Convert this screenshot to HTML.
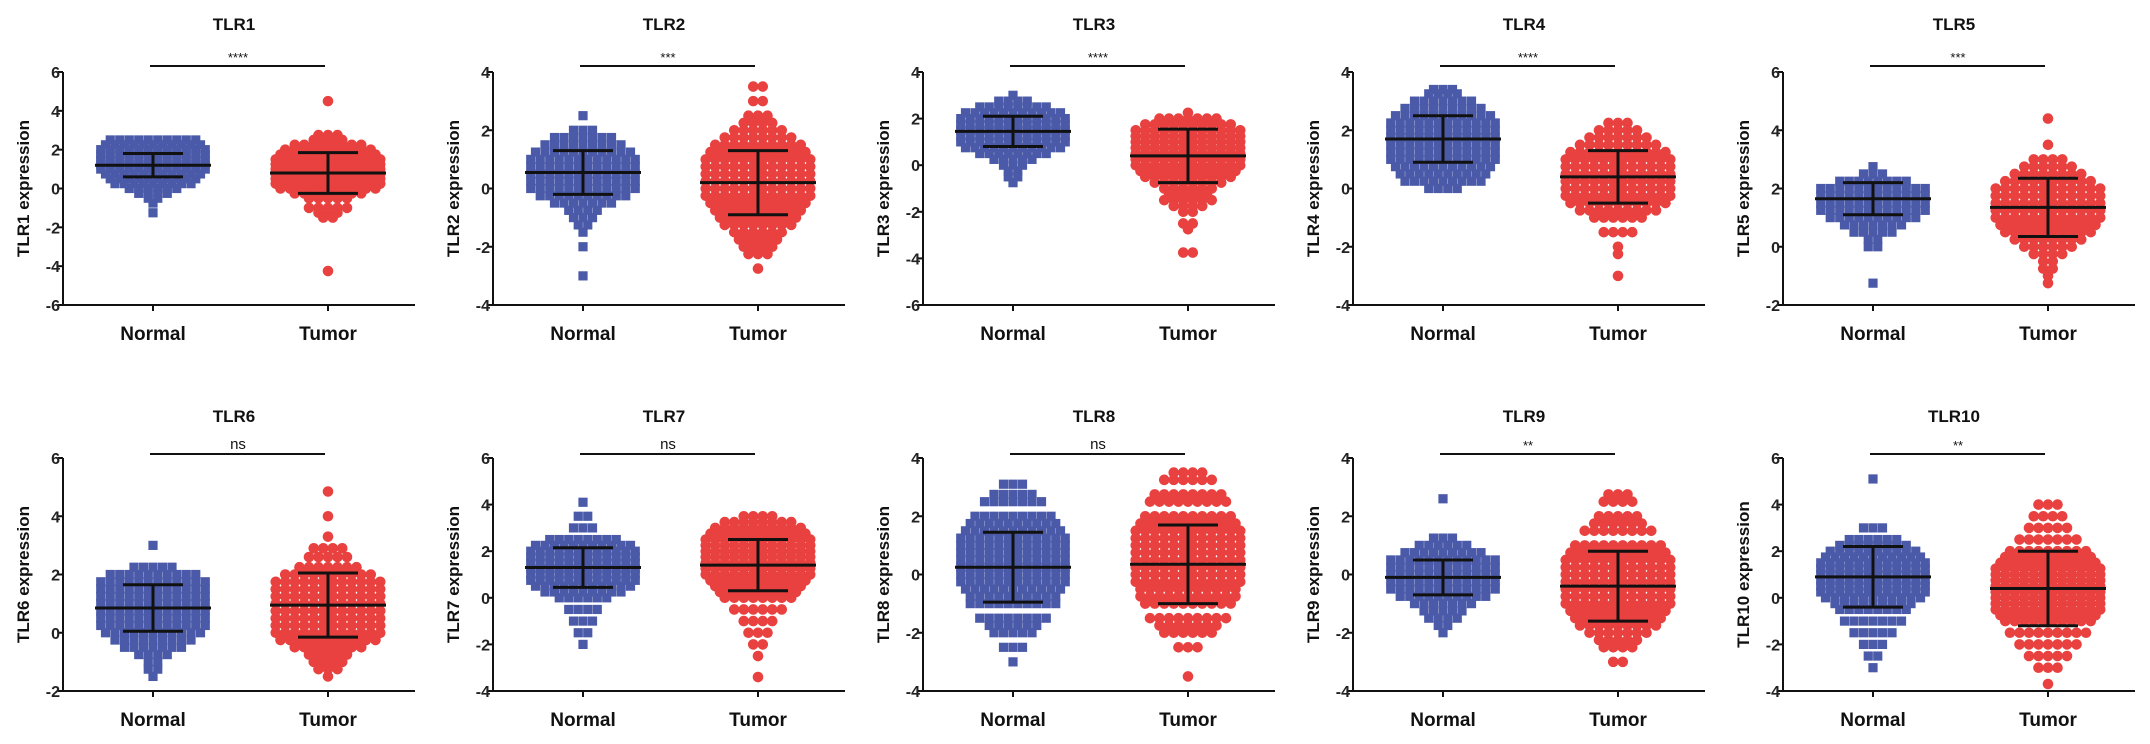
<!DOCTYPE html>
<html><head><meta charset="utf-8"><style>
html,body{margin:0;padding:0;background:#fff;}
svg{display:block;font-family:"Liberation Sans",Arial,sans-serif;}
</style></head><body>
<svg id="fig" width="2150" height="744" viewBox="0 0 2150 744" xmlns="http://www.w3.org/2000/svg"></svg>
<script>
const panelNames=["TLR1","TLR2","TLR3","TLR4","TLR5","TLR6","TLR7","TLR8","TLR9","TLR10"];
const yMin=[-6,-4,-6,-4,-2,-2,-4,-4,-4,-4];
const yMax=[6,4,4,4,6,6,6,4,4,6];
const sigLabels=["****","***","****","****","***","ns","ns","ns","**","**"];
const categories=["Normal","Tumor"];
const normalMean=[1.2,0.55,1.45,1.7,1.65,0.85,1.3,0.25,-0.1,0.9];
const normalSD=[0.6,0.75,0.65,0.8,0.55,0.8,0.85,1.2,0.6,1.3];
const tumorMean=[0.8,0.2,0.4,0.4,1.35,0.95,1.4,0.35,-0.4,0.4];
const tumorSD=[1.05,1.1,1.15,0.9,1.0,1.1,1.1,1.35,1.2,1.6];
// [value,count] pairs
const normalBins=[
[[2.5,10],[2.25,11],[2,12],[1.75,12],[1.5,12],[1.25,12],[1,12],[0.75,11],[0.5,10],[0.25,9],[0,6],[-0.25,4],[-0.5,2],[-0.75,1],[-1.25,1]],
[[2.5,1],[2,3],[1.75,7],[1.5,9],[1.25,11],[1,12],[0.75,12],[0.5,12],[0.25,12],[0,12],[-0.25,10],[-0.5,7],[-0.75,4],[-1,3],[-1.25,2],[-1.5,1],[-2,1],[-3,1]],
[[3,1],[2.75,4],[2.5,8],[2.25,11],[2,12],[1.75,12],[1.5,12],[1.25,12],[1,12],[0.75,11],[0.5,8],[0.25,5],[0,3],[-0.25,2],[-0.5,2],[-0.75,1]],
[[3.4,3],[3.25,4],[3,7],[2.75,9],[2.5,11],[2.25,12],[2,12],[1.75,12],[1.5,12],[1.25,12],[1,12],[0.75,11],[0.5,10],[0.25,9],[0,4]],
[[2.75,1],[2.5,3],[2.25,8],[2,12],[1.75,12],[1.5,12],[1.25,12],[1,10],[0.75,7],[0.5,5],[0.25,2],[0,2],[-1.25,1]],
[[3,1],[2.25,5],[2,10],[1.75,12],[1.5,12],[1.25,12],[1,12],[0.75,12],[0.5,12],[0.25,12],[0,11],[-0.25,9],[-0.5,7],[-0.75,4],[-1,2],[-1.25,2],[-1.5,1]],
[[4.1,1],[3.5,2],[3,3],[2.5,8],[2.25,11],[2,12],[1.75,12],[1.5,12],[1.25,12],[1,12],[0.75,12],[0.5,11],[0.25,9],[0,6],[-0.5,4],[-1,3],[-1.5,2],[-2,1]],
[[3.1,3],[2.75,5],[2.5,7],[2,9],[1.75,10],[1.5,11],[1.25,12],[1,12],[0.75,12],[0.5,12],[0.25,12],[0,12],[-0.25,12],[-0.5,11],[-0.75,10],[-1,10],[-1.5,8],[-1.75,6],[-2,5],[-2.5,3],[-3,1]],
[[2.6,1],[1.25,3],[1,6],[0.75,9],[0.5,12],[0.25,12],[0,12],[-0.25,12],[-0.5,12],[-0.75,10],[-1,7],[-1.25,5],[-1.5,4],[-1.75,2],[-2,1]],
[[5.1,1],[3,3],[2.5,6],[2.25,8],[2,10],[1.75,11],[1.5,12],[1.25,12],[1,12],[0.75,12],[0.5,12],[0.25,12],[0,11],[-0.25,9],[-0.5,8],[-1,7],[-1.5,5],[-2,3],[-2.5,2],[-3,1]]
];
const tumorBins=[
[[4.5,1],[2.75,3],[2.5,4],[2.25,8],[2,10],[1.75,11],[1.5,12],[1.25,12],[1,12],[0.75,12],[0.5,12],[0.25,12],[0,11],[-0.25,8],[-0.5,5],[-1,5],[-1.25,3],[-1.5,2],[-4.25,1]],
[[3.5,2],[3,2],[2.5,3],[2.25,4],[2,6],[1.75,8],[1.5,10],[1.25,11],[1,12],[0.75,12],[0.5,12],[0.25,12],[0,12],[-0.25,12],[-0.5,11],[-0.75,10],[-1,9],[-1.25,8],[-1.5,6],[-1.75,5],[-2,4],[-2.25,3],[-2.75,1]],
[[2.25,1],[2,7],[1.75,10],[1.5,12],[1.25,12],[1,12],[0.75,12],[0.5,12],[0.25,12],[0,12],[-0.25,11],[-0.5,10],[-0.75,8],[-1,6],[-1.25,5],[-1.5,6],[-1.75,4],[-2,2],[-2.5,2],[-2.75,1],[-3.75,2]],
[[2.25,3],[2,5],[1.75,7],[1.5,9],[1.25,11],[1,12],[0.75,12],[0.5,12],[0.25,12],[0,12],[-0.25,12],[-0.5,11],[-0.75,9],[-1,6],[-1.5,4],[-2,1],[-2.25,1],[-3,1]],
[[4.4,1],[3.5,1],[3,4],[2.75,6],[2.5,8],[2.25,10],[2,12],[1.75,12],[1.5,12],[1.25,12],[1,12],[0.75,11],[0.5,10],[0.25,8],[0,6],[-0.25,4],[-0.5,2],[-0.75,2],[-1,1],[-1.25,1]],
[[4.85,1],[4,1],[3.3,1],[2.9,4],[2.6,5],[2.25,7],[2,10],[1.75,12],[1.5,12],[1.25,12],[1,12],[0.75,12],[0.5,12],[0.25,12],[0,12],[-0.25,11],[-0.5,8],[-0.75,5],[-1,4],[-1.25,3],[-1.5,1]],
[[3.5,4],[3.25,8],[3,10],[2.75,11],[2.5,12],[2.25,12],[2,12],[1.75,12],[1.5,12],[1.25,12],[1,12],[0.75,11],[0.5,10],[0.25,9],[0,8],[-0.5,6],[-1,4],[-1.5,3],[-2,2],[-2.5,1],[-3.4,1]],
[[3.5,4],[3.25,6],[2.75,8],[2.5,9],[2,10],[1.75,11],[1.5,12],[1.25,12],[1,12],[0.75,12],[0.5,12],[0.25,12],[0,12],[-0.25,12],[-0.5,11],[-0.75,11],[-1,10],[-1.5,9],[-1.75,7],[-2,6],[-2.5,3],[-3.5,1]],
[[2.75,3],[2.5,4],[2,5],[1.75,6],[1.5,8],[1,10],[0.75,11],[0.5,12],[0.25,12],[0,12],[-0.25,12],[-0.5,12],[-0.75,12],[-1,12],[-1.25,11],[-1.5,10],[-1.75,9],[-2,7],[-2.25,5],[-2.5,4],[-3,2]],
[[4,3],[3.5,4],[3,5],[2.5,7],[2,9],[1.75,10],[1.5,11],[1.25,12],[1,12],[0.75,12],[0.5,12],[0.25,12],[0,12],[-0.25,12],[-0.5,12],[-0.75,11],[-1,10],[-1.5,9],[-2,7],[-2.5,5],[-3,3],[-3.7,1]]
];

const NS="http://www.w3.org/2000/svg";
const svg=document.getElementById('fig');
function mk(tag,attrs,parent){const e=document.createElementNS(NS,tag);for(const k in attrs)e.setAttribute(k,attrs[k]);(parent||svg).appendChild(e);return e;}

const AX=63, XEND=415, TOP=72, BOT=305, CX=[153,328];
const BLUE="#4a5aa8", RED="#e8413f";

panelNames.forEach((name,p)=>{
  const col=p%5,row=Math.floor(p/5);
  const g=mk('g',{transform:`translate(${col*430},${row*386})`});
  
  
  const ys=v=>BOT-(v-yMin[p])/(yMax[p]-yMin[p])*(BOT-TOP);
  const t=mk('text',{x:(AX+XEND)/2-5,y:row?36:30,'text-anchor':'middle','font-size':17,'font-weight':'bold',fill:'#111'},g);
  t.textContent=name;
  
  
  // significance
  const sl=mk('line',{x1:150,x2:325,y1:row?68:66,y2:row?68:66,stroke:'#111','stroke-width':2},g);
  
  
  const isNs=sigLabels[p]==='ns';
  const st=mk('text',{x:238,y:isNs?(row?63:61):(row?64:62),'text-anchor':'middle','font-size':isNs?15:13,fill:'#111'},g);
  st.textContent=sigLabels[p];
  
  
  // points
  const bins=[normalBins[p],tumorBins[p]];
  bins.forEach((b,gi)=>{
    const pg=mk('g',{},g);
    
    
    b.forEach(([v,n])=>{
      const y=ys(v);
      for(let i=0;i<n;i++){
        const x=CX[gi]+(i-(n-1)/2)*9.5;
        let m;
        if(gi===0) m=mk('rect',{x:x-4.6,y:y-4.6,width:9.2,height:9.2,fill:BLUE},pg);
        else m=mk('circle',{cx:x,cy:y,r:5.3,fill:RED},pg);
        
        
      }
    });
  });
  // mean / sd
  [[normalMean[p],normalSD[p]],[tumorMean[p],tumorSD[p]]].forEach(([m,s],gi)=>{
    const c=CX[gi];
    const eg=mk('g',{stroke:'#111','stroke-width':3},g);
    
    
    mk('line',{x1:c-58,x2:c+58,y1:ys(m),y2:ys(m)},eg);
    mk('line',{x1:c-30,x2:c+30,y1:ys(m+s),y2:ys(m+s)},eg);
    mk('line',{x1:c-30,x2:c+30,y1:ys(m-s),y2:ys(m-s)},eg);
    mk('line',{x1:c,x2:c,y1:ys(m+s),y2:ys(m-s)},eg);
  });
  // axes
  const ya=mk('line',{x1:AX,x2:AX,y1:TOP,y2:BOT+1,stroke:'#111','stroke-width':2},g);
  
  
  const xa=mk('line',{x1:AX-1,x2:XEND,y1:BOT,y2:BOT,stroke:'#111','stroke-width':2},g);
  
  
  for(let v=yMin[p];v<=yMax[p];v+=2){
    const y=ys(v);
    mk('line',{x1:AX-5,x2:AX,y1:y,y2:y,stroke:'#111','stroke-width':2},g);
    const tl=mk('text',{x:AX-3,y:y+6,'text-anchor':'end','font-size':16,'font-weight':'bold',fill:'#222'},g);
    tl.textContent=v;
    
    
  }
  categories.forEach((c,gi)=>{
    mk('line',{x1:CX[gi],x2:CX[gi],y1:BOT,y2:BOT+6,stroke:'#111','stroke-width':2},g);
    const cl=mk('text',{x:CX[gi],y:BOT+35,'text-anchor':'middle','font-size':19,'font-weight':'bold',fill:'#111'},g);
    cl.textContent=c;
    
    
  });
  const yt=mk('text',{x:0,y:0,transform:`translate(29,${(TOP+BOT)/2}) rotate(-90)`,'text-anchor':'middle','font-size':17,'font-weight':'bold',fill:'#111'},g);
  yt.textContent=name+' expression';
  
  
});
</script>
</body></html>
